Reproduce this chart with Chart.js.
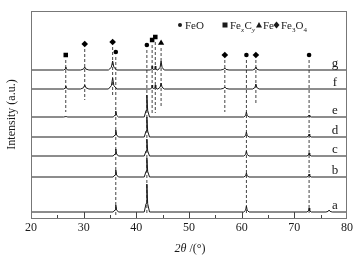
<!DOCTYPE html>
<html>
<head>
<meta charset="utf-8">
<script src="https://cdn.jsdelivr.net/npm/chart.js@4.4.1/dist/chart.umd.min.js"></script>
<style>
html, body { margin: 0; padding: 0; background: #fff; }
#wrap { width: 362px; height: 265px; }
</style>
</head>
<body>
<div id="wrap"><canvas id="xrdChart" width="362" height="265"></canvas></div>
<script>
// reflection positions, 2theta in degrees
const peakPositions  = [26.6, 30.2, 35.5, 36.1, 42.0, 43.0, 43.6, 44.7, 56.8, 60.9, 62.7, 72.8, 76.6];
const peakHalfWidths = [0.4,  0.8,  0.8,  0.5,  0.5,  0.3,  0.3,  0.6,  0.8,  0.5,  0.6,  0.4,  0.6];

// samples, bottom to top, with the vertical offset of each pattern
const sampleLabels = ['a', 'b', 'c', 'd', 'e', 'f', 'g'];
const baselines    = [6, 41, 62, 81, 101, 129, 148];

// peak heights per sample (same order as peakPositions)
const peakHeights = [
    [0, 0, 0,  7, 28, 0, 0, 0, 0, 6, 0, 4, 2],   // a
    [0, 0, 0,  7, 19, 0, 0, 0, 0, 4, 0, 3, 0],   // b
    [0, 0, 0,  7, 17, 0, 0, 0, 0, 5, 0, 3, 0],   // c
    [0, 0, 0,  7, 20, 0, 0, 0, 0, 5, 0, 3, 0],   // d
    [1, 0, 0,  6, 22, 0, 0, 0, 0, 5, 0, 2, 0],   // e
    [3, 4, 11, 0, 0,  4, 4, 6, 2, 0, 5, 0, 0],   // f
    [3, 3, 9,  0, 0,  4, 4, 9, 2, 0, 3, 0, 0]    // g
];

// phase markers: position, marker height, where the dashed guide stops
const feoPos     = [36.1, 42.0, 60.9, 72.8];
const feoY       = [166, 173, 163, 163];
const feoDashEnd = [3, 3, 3, 3];

const fexcyPos     = [26.6, 43.0, 43.6];
const fexcyY       = [163, 178, 181];
const fexcyDashEnd = [106, 105, 105];

const fePos     = [44.7];
const feY       = [175];
const feDashEnd = [110];

const fe3o4Pos     = [30.2, 35.5, 56.8, 62.7];
const fe3o4Y       = [174, 176, 163, 163];
const fe3o4DashEnd = [118, 121, 106, 114];

const xTicks = [20, 30, 40, 50, 60, 70, 80];

const SERIF = "'Liberation Serif', 'DejaVu Serif', serif";
const INK = '#1a1a1a';

// build one pattern from its baseline and peaks
function buildPattern(base, heights) {
    const pts = [{ x: 20, y: base }];
    peakPositions.forEach((p, i) => {
        const h = heights[i];
        if (!h) return;
        const w = peakHalfWidths[i];
        pts.push({ x: p - w, y: base });
        pts.push({ x: p - w * 0.3, y: base + h * 0.3 });
        pts.push({ x: p, y: base + h });
        pts.push({ x: p + w * 0.3, y: base + h * 0.3 });
        pts.push({ x: p + w, y: base });
    });
    pts.push({ x: 80, y: base });
    return pts;
}

const datasets = [];

sampleLabels.forEach((lab, i) => {
    datasets.push({
        label: lab,
        data: buildPattern(baselines[i], peakHeights[i]),
        borderColor: INK,
        borderWidth: 1,
        pointRadius: 0,
        tension: 0
    });
});

function addPhase(pos, ys, dashEnd, style, radius) {
    pos.forEach((p, i) => {
        datasets.push({
            data: [{ x: p, y: ys[i] - 5 }, { x: p, y: dashEnd[i] }],
            borderColor: '#444',
            borderWidth: 1,
            borderDash: [3, 2],
            pointRadius: 0
        });
    });
    datasets.push({
        data: pos.map((p, i) => ({ x: p, y: ys[i] })),
        showLine: false,
        pointStyle: style,
        pointRadius: radius,
        backgroundColor: '#000',
        borderColor: '#000',
        borderWidth: 0
    });
}

addPhase(feoPos, feoY, feoDashEnd, 'circle', 2.3);
addPhase(fexcyPos, fexcyY, fexcyDashEnd, 'rect', 3.2);
addPhase(fePos, feY, feDashEnd, 'triangle', 3.6);
addPhase(fe3o4Pos, fe3o4Y, fe3o4DashEnd, 'rectRot', 3.3);

// frame, inward ticks, legend and text
const decorPlugin = {
    id: 'decor',
    afterDraw(chart) {
        const ctx = chart.ctx;
        const area = chart.chartArea;
        const xs = chart.scales.x;
        const ys = chart.scales.y;

        ctx.save();
        ctx.strokeStyle = '#777';
        ctx.lineWidth = 1;
        ctx.strokeRect(area.left + 0.5, area.top + 0.5, area.right - area.left - 1, area.bottom - area.top);

        ctx.strokeStyle = '#444';
        for (let v = 25; v < 80; v += 5) {
            const px = Math.round(xs.getPixelForValue(v)) + 0.5;
            const len = v % 10 === 0 ? 6 : 3;
            ctx.beginPath();
            ctx.moveTo(px, area.bottom);
            ctx.lineTo(px, area.bottom - len);
            ctx.stroke();
        }

        ctx.fillStyle = INK;
        ctx.textBaseline = 'alphabetic';

        // sample labels at the right end
        ctx.font = '13px ' + SERIF;
        ctx.textAlign = 'center';
        sampleLabels.forEach((lab, i) => {
            ctx.fillText(lab, 335, ys.getPixelForValue(baselines[i]) - 3);
        });

        // legend
        ctx.textAlign = 'left';
        const big = '11px ' + SERIF;
        const sub = '7px ' + SERIF;
        const subI = 'italic 7px ' + SERIF;
        const by = 29;
        function txt(s, x, font, dy) {
            ctx.font = font;
            ctx.fillText(s, x, by + (dy || 0));
            return x + ctx.measureText(s).width;
        }
        ctx.beginPath(); ctx.arc(180, 25, 2, 0, Math.PI * 2); ctx.fill();
        txt('FeO', 185, big);
        ctx.fillRect(222.5, 22.5, 5, 5);
        let x = txt('Fe', 230, big);
        x = txt('x', x, subI, 2.5);
        x = txt('C', x + 0.5, big);
        txt('y', x, subI, 2.5);
        ctx.beginPath(); ctx.moveTo(259, 22); ctx.lineTo(262, 27.5); ctx.lineTo(256, 27.5); ctx.closePath(); ctx.fill();
        txt('Fe', 263, big);
        ctx.beginPath(); ctx.moveTo(276.5, 21.5); ctx.lineTo(279.5, 25); ctx.lineTo(276.5, 28.5); ctx.lineTo(273.5, 25); ctx.closePath(); ctx.fill();
        x = txt('Fe', 281, big);
        x = txt('3', x, sub, 2.5);
        x = txt('O', x, big);
        txt('4', x, sub, 2.5);

        // x title
        ctx.font = 'italic 12px ' + SERIF;
        const part1 = '2\u03b8';
        const w1 = ctx.measureText(part1).width;
        ctx.font = '12px ' + SERIF;
        const part2 = ' /(\u00b0)';
        const w2 = ctx.measureText(part2).width;
        const tx = 190 - (w1 + w2) / 2;
        ctx.font = 'italic 12px ' + SERIF;
        ctx.fillText(part1, tx, 252);
        ctx.font = '12px ' + SERIF;
        ctx.fillText(part2, tx + w1, 252);

        // y title
        ctx.translate(12, (area.top + area.bottom) / 2);
        ctx.rotate(-Math.PI / 2);
        ctx.textAlign = 'center';
        ctx.textBaseline = 'middle';
        ctx.font = '12px ' + SERIF;
        ctx.fillText('Intensity (a.u.)', 0, 0);
        ctx.restore();
    }
};

new Chart(document.getElementById('xrdChart').getContext('2d'), {
    type: 'line',
    data: { datasets: datasets },
    options: {
        responsive: false,
        animation: false,
        devicePixelRatio: 1,
        layout: { padding: { left: 31, right: 15, top: 11, bottom: 0 } },
        plugins: {
            legend: { display: false },
            tooltip: { enabled: false }
        },
        scales: {
            x: {
                type: 'linear',
                min: 20,
                max: 80,
                afterBuildTicks: scale => { scale.ticks = xTicks.map(v => ({ value: v })); },
                afterFit: scale => { scale.height = 47; },
                grid: { display: false, drawTicks: false },
                border: { display: false },
                ticks: {
                    padding: 3,
                    color: INK,
                    maxRotation: 0,
                    font: { family: SERIF, size: 12 }
                }
            },
            y: {
                display: false,
                min: 0,
                max: 207
            }
        }
    },
    plugins: [decorPlugin]
});
</script>
</body>
</html>
